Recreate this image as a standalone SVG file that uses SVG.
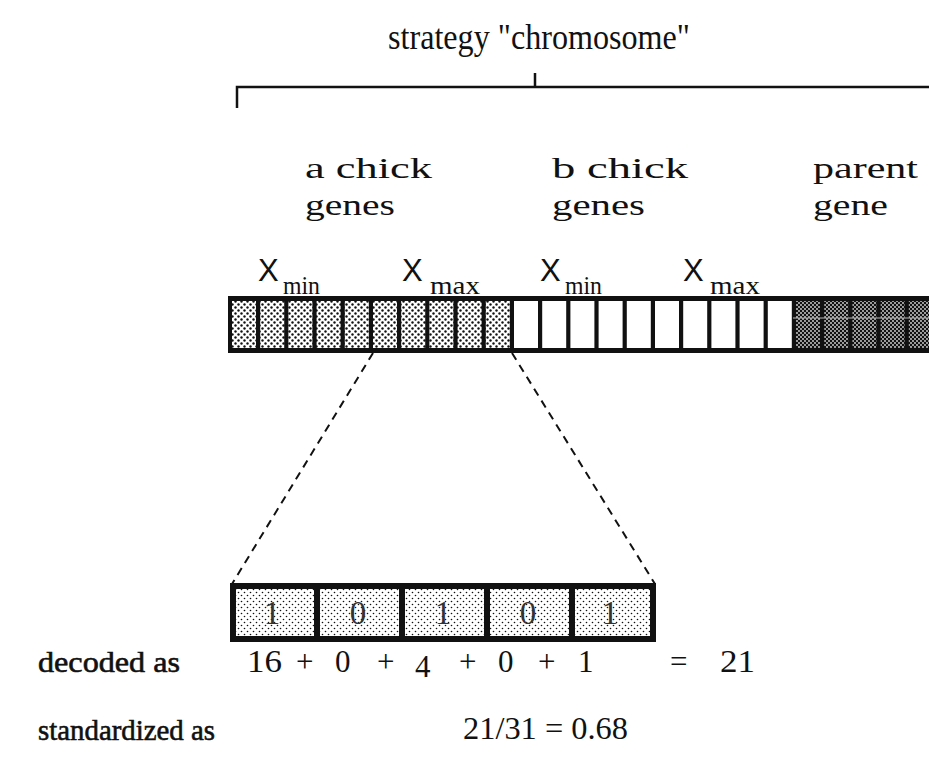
<svg xmlns="http://www.w3.org/2000/svg" width="929" height="762" viewBox="0 0 929 762">
<style>
.t{font-family:"Liberation Serif","DejaVu Serif",serif;fill:#111}
.lbl{font-size:30px}
.x{font-family:"Liberation Sans","DejaVu Sans",sans-serif;font-size:31px;fill:#111}
.sub{font-family:"Liberation Serif",serif;font-size:25px;fill:#111}
.num{font-size:31px}
.bold{font-size:30px;stroke:#111;stroke-width:0.6}
.dig{font-family:"Liberation Serif",serif;font-size:33px;fill:#333;text-anchor:middle}
.dash{stroke:#111;stroke-width:2;stroke-dasharray:8 6;fill:none}
.brk{stroke:#111;stroke-width:2.5;fill:none}
</style>
<defs>
<pattern id="dots" width="6" height="6" patternUnits="userSpaceOnUse"><rect width="6" height="6" fill="#fff"/><circle cx="1.5" cy="1.5" r="1.2" fill="#111"/><circle cx="4.5" cy="4.5" r="1.2" fill="#111"/></pattern>
<pattern id="fine" width="6" height="6" patternUnits="userSpaceOnUse"><rect width="6" height="6" fill="#fff"/><circle cx="1.5" cy="1.5" r="0.8" fill="#111"/><circle cx="4.5" cy="4.5" r="0.8" fill="#111"/></pattern>
<pattern id="dark" width="4" height="4" patternUnits="userSpaceOnUse"><rect width="4" height="4" fill="#111"/><circle cx="1" cy="1" r="0.9" fill="#ddd"/><circle cx="3" cy="3" r="0.9" fill="#ddd"/></pattern>
</defs>
<rect width="929" height="762" fill="#fff"/>

<g id="title">
<text class="t" x="388" y="49" font-size="35" textLength="302" lengthAdjust="spacingAndGlyphs">strategy "chromosome"</text>
<path class="brk" d="M237,108 V87 H929 M535,73 V87"/>
</g>

<g id="labels">
<text class="t lbl" x="305" y="178" textLength="127" lengthAdjust="spacingAndGlyphs">a chick</text>
<text class="t lbl" x="305" y="215" textLength="90" lengthAdjust="spacingAndGlyphs">genes</text>
<text class="t lbl" x="552" y="178" textLength="136" lengthAdjust="spacingAndGlyphs">b chick</text>
<text class="t lbl" x="552" y="215" textLength="93" lengthAdjust="spacingAndGlyphs">genes</text>
<text class="t lbl" x="813" y="178" textLength="105" lengthAdjust="spacingAndGlyphs">parent</text>
<text class="t lbl" x="813" y="215" textLength="75" lengthAdjust="spacingAndGlyphs">gene</text>
<text class="x" x="258" y="281">X</text><text class="sub" x="283" y="294" textLength="37" lengthAdjust="spacingAndGlyphs">min</text>
<text class="x" x="402" y="281">X</text><text class="sub" x="430" y="294" textLength="50" lengthAdjust="spacingAndGlyphs">max</text>
<text class="x" x="540" y="281">X</text><text class="sub" x="565" y="294" textLength="37" lengthAdjust="spacingAndGlyphs">min</text>
<text class="x" x="683" y="281">X</text><text class="sub" x="710" y="294" textLength="50" lengthAdjust="spacingAndGlyphs">max</text>
</g>

<g id="chromosome">
<rect x="228" y="296" width="720" height="57" fill="#111"/>
<g fill="url(#dots)">
<rect x="232" y="301" width="24" height="47"/><rect x="260.2" y="301" width="24" height="47"/><rect x="288.4" y="301" width="24" height="47"/><rect x="316.6" y="301" width="24" height="47"/><rect x="344.8" y="301" width="24" height="47"/>
<rect x="373" y="301" width="24" height="47"/><rect x="401.2" y="301" width="24" height="47"/><rect x="429.4" y="301" width="24" height="47"/><rect x="457.6" y="301" width="24" height="47"/><rect x="485.8" y="301" width="24" height="47"/>
</g>
<g fill="#fff">
<rect x="514" y="301" width="24" height="47"/><rect x="542.2" y="301" width="24" height="47"/><rect x="570.4" y="301" width="24" height="47"/><rect x="598.6" y="301" width="24" height="47"/><rect x="626.8" y="301" width="24" height="47"/>
<rect x="655" y="301" width="24" height="47"/><rect x="683.2" y="301" width="24" height="47"/><rect x="711.4" y="301" width="24" height="47"/><rect x="739.6" y="301" width="24" height="47"/><rect x="767.8" y="301" width="24" height="47"/>
</g>
<g fill="url(#dark)">
<rect x="796" y="301" width="24" height="47"/><rect x="824.2" y="301" width="24" height="47"/><rect x="852.4" y="301" width="24" height="47"/><rect x="880.6" y="301" width="24" height="47"/><rect x="908.8" y="301" width="24" height="47"/>
</g>
<line x1="793" y1="318" x2="929" y2="318" stroke="#bbb" stroke-width="1"/>
</g>

<g id="connectors">
<path class="dash" d="M373,353 L232,584"/>
<path class="dash" d="M512,353 L655,584"/>
</g>

<g id="bits">
<rect x="230" y="583" width="426" height="59" fill="#111"/>
<g fill="url(#fine)">
<rect x="236" y="589" width="78" height="47"/><rect x="320" y="589" width="79" height="47"/><rect x="405" y="589" width="79" height="47"/><rect x="490" y="589" width="79" height="47"/><rect x="575" y="589" width="75" height="47"/>
</g>
<text class="dig" x="272" y="624">1</text>
<text class="dig" x="358" y="624">0</text>
<text class="dig" x="443" y="624">1</text>
<text class="dig" x="528" y="624">0</text>
<text class="dig" x="610" y="624">1</text>
</g>

<g id="decoding">
<text class="t bold" x="38" y="672" textLength="142" lengthAdjust="spacingAndGlyphs">decoded as</text>
<text class="t num" x="247" y="672" textLength="35" lengthAdjust="spacingAndGlyphs">16</text>
<text class="t num" x="296" y="672">+</text>
<text class="t num" x="335" y="672">0</text>
<text class="t num" x="377" y="672">+</text>
<text class="t num" x="415" y="677">4</text>
<text class="t num" x="459" y="672">+</text>
<text class="t num" x="498" y="672">0</text>
<text class="t num" x="538" y="672">+</text>
<text class="t num" x="578" y="672">1</text>
<text class="t num" x="670" y="672">=</text>
<text class="t num" x="720" y="672" textLength="35" lengthAdjust="spacingAndGlyphs">21</text>
<text class="t bold" x="38" y="740" textLength="177" lengthAdjust="spacingAndGlyphs">standardized as</text>
<text class="t num" x="463" y="739" textLength="165" lengthAdjust="spacingAndGlyphs">21/31 = 0.68</text>
</g>
</svg>
